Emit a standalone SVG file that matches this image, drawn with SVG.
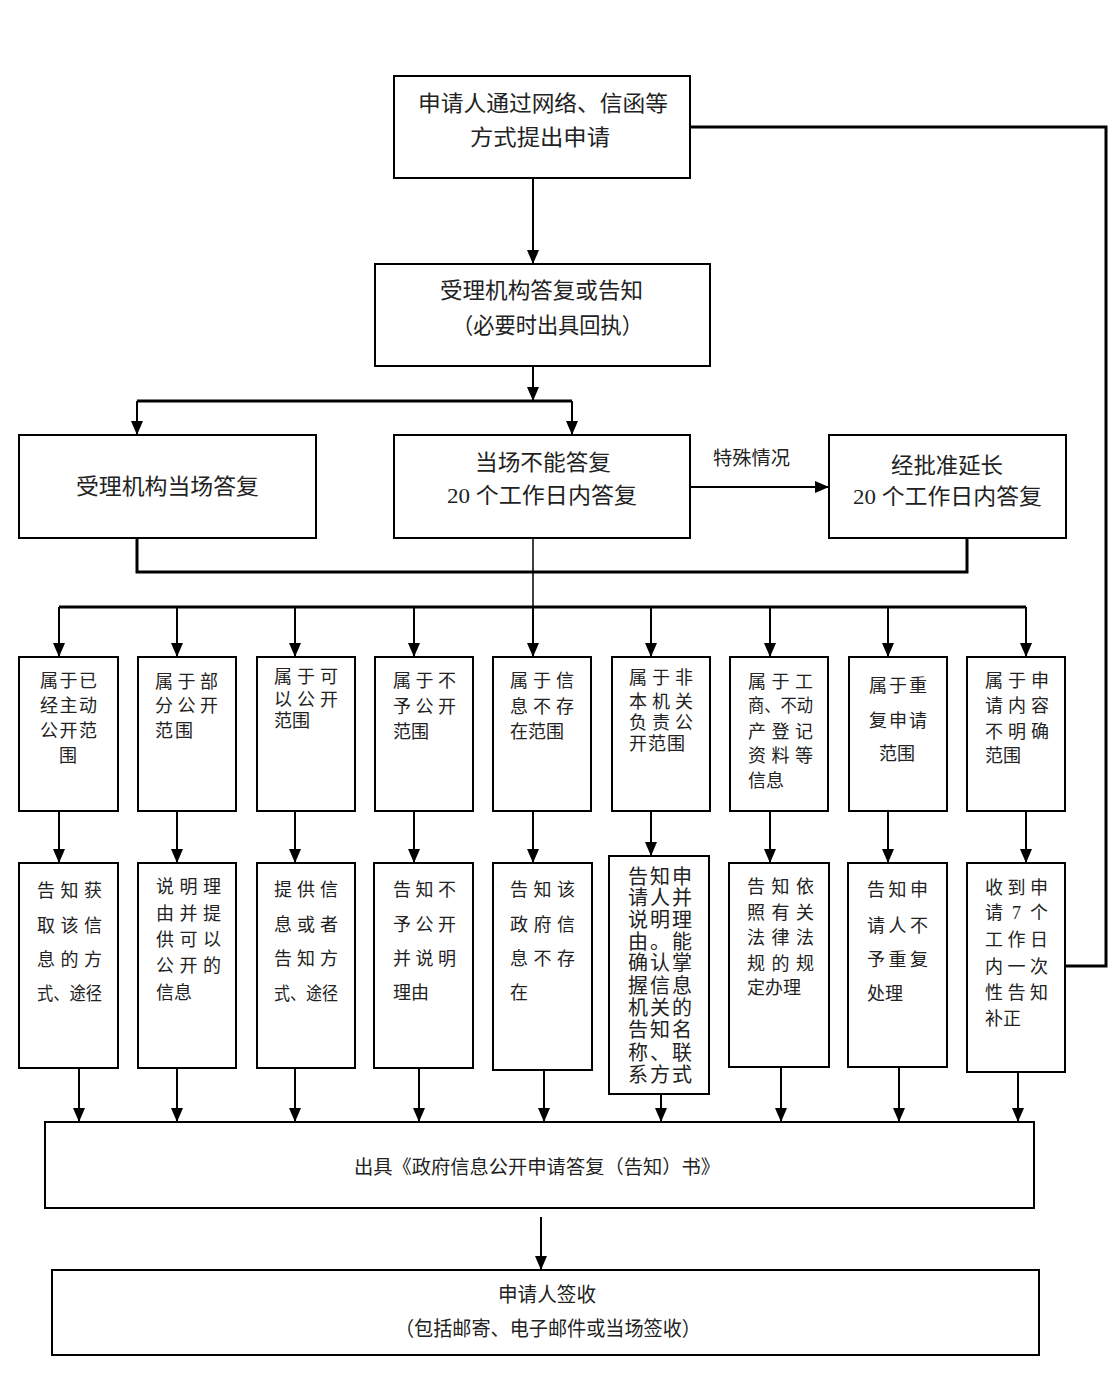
<svg xmlns="http://www.w3.org/2000/svg" width="1119" height="1378" viewBox="0 0 1119 1378">
<defs>
<style>
.box{fill:#fff;stroke:#000;stroke-width:2}
.ln{fill:none;stroke:#000;stroke-width:2}
.thick{fill:none;stroke:#000;stroke-width:3}
.thin{fill:none;stroke:#000;stroke-width:1.5}
text{font-family:"Liberation Serif","Noto Sans CJK SC",serif;fill:#222}
.t22{font-size:22px}
.t18{font-size:18px}
.t20{font-size:20px}
.t19{font-size:19px}
.mid{text-anchor:middle}
</style>
<marker id="ah" markerUnits="userSpaceOnUse" markerWidth="14" markerHeight="12" refX="14" refY="6" orient="auto">
<path d="M0,0 L14,6 L0,12 z" fill="#000"/>
</marker>
</defs>
<rect width="1119" height="1378" fill="#fff"/>

<g id="connectors">
<line class="ln" x1="533" y1="178" x2="533" y2="264" marker-end="url(#ah)"/>
<line class="ln" x1="533" y1="366" x2="533" y2="401" marker-end="url(#ah)"/>
<line class="thick" x1="137" y1="401" x2="572" y2="401"/>
<line class="ln" x1="137" y1="401" x2="137" y2="435" marker-end="url(#ah)"/>
<line class="ln" x1="572" y1="401" x2="572" y2="435" marker-end="url(#ah)"/>
<line class="ln" x1="690" y1="487" x2="829" y2="487" marker-end="url(#ah)"/>
<polyline class="thick" points="137,538 137,572 967,572 967,538"/>
<line class="thin" x1="533" y1="538" x2="533" y2="607"/>
<line class="thick" x1="59" y1="607" x2="1026" y2="607"/>
<line class="ln" x1="59" y1="607" x2="59" y2="657" marker-end="url(#ah)"/>
<line class="ln" x1="177" y1="607" x2="177" y2="657" marker-end="url(#ah)"/>
<line class="ln" x1="295" y1="607" x2="295" y2="657" marker-end="url(#ah)"/>
<line class="ln" x1="414" y1="607" x2="414" y2="657" marker-end="url(#ah)"/>
<line class="ln" x1="533" y1="607" x2="533" y2="657" marker-end="url(#ah)"/>
<line class="ln" x1="651" y1="607" x2="651" y2="657" marker-end="url(#ah)"/>
<line class="ln" x1="770" y1="607" x2="770" y2="657" marker-end="url(#ah)"/>
<line class="ln" x1="888" y1="607" x2="888" y2="657" marker-end="url(#ah)"/>
<line class="ln" x1="1026" y1="607" x2="1026" y2="657" marker-end="url(#ah)"/>
<line class="ln" x1="59" y1="811" x2="59" y2="863" marker-end="url(#ah)"/>
<line class="ln" x1="177" y1="811" x2="177" y2="863" marker-end="url(#ah)"/>
<line class="ln" x1="295" y1="811" x2="295" y2="863" marker-end="url(#ah)"/>
<line class="ln" x1="414" y1="811" x2="414" y2="863" marker-end="url(#ah)"/>
<line class="ln" x1="533" y1="811" x2="533" y2="863" marker-end="url(#ah)"/>
<line class="ln" x1="651" y1="811" x2="651" y2="856" marker-end="url(#ah)"/>
<line class="ln" x1="770" y1="811" x2="770" y2="863" marker-end="url(#ah)"/>
<line class="ln" x1="888" y1="811" x2="888" y2="863" marker-end="url(#ah)"/>
<line class="ln" x1="1026" y1="811" x2="1026" y2="863" marker-end="url(#ah)"/>
<polyline class="thick" points="690,127 1106,127 1106,966 1065,966"/>
<line class="ln" x1="79" y1="1068" x2="79" y2="1122" marker-end="url(#ah)"/>
<line class="ln" x1="177" y1="1068" x2="177" y2="1122" marker-end="url(#ah)"/>
<line class="ln" x1="295" y1="1068" x2="295" y2="1122" marker-end="url(#ah)"/>
<line class="ln" x1="419" y1="1068" x2="419" y2="1122" marker-end="url(#ah)"/>
<line class="ln" x1="544" y1="1070" x2="544" y2="1122" marker-end="url(#ah)"/>
<line class="ln" x1="661" y1="1094" x2="661" y2="1122" marker-end="url(#ah)"/>
<line class="ln" x1="781" y1="1067" x2="781" y2="1122" marker-end="url(#ah)"/>
<line class="ln" x1="899" y1="1067" x2="899" y2="1122" marker-end="url(#ah)"/>
<line class="ln" x1="1018" y1="1072" x2="1018" y2="1122" marker-end="url(#ah)"/>
<line class="ln" x1="541" y1="1217" x2="541" y2="1270" marker-end="url(#ah)"/>
<text class="t19" x="713" y="465" textLength="77" lengthAdjust="spacingAndGlyphs">特殊情况</text>
</g>

<g id="n-apply">
<rect class="box" x="394" y="76" width="296" height="102"/>
<text class="t22" x="418" y="111" textLength="250" lengthAdjust="spacingAndGlyphs">申请人通过网络、信函等</text>
<text class="t22" x="470" y="145" textLength="140" lengthAdjust="spacingAndGlyphs">方式提出申请</text>
</g>
<g id="n-accept">
<rect class="box" x="375" y="264" width="335" height="102"/>
<text class="t22" x="440" y="298" textLength="203" lengthAdjust="spacingAndGlyphs">受理机构答复或告知</text>
<text class="t22" x="452" y="333" textLength="191" lengthAdjust="spacingAndGlyphs">（必要时出具回执）</text>
</g>
<g id="n-onsite">
<rect class="box" x="19" y="435" width="297" height="103"/>
<text class="t22" x="76" y="494" textLength="183" lengthAdjust="spacingAndGlyphs">受理机构当场答复</text>
</g>
<g id="n-20days">
<rect class="box" x="394" y="435" width="296" height="103"/>
<text class="t22" x="475" y="470" textLength="136" lengthAdjust="spacingAndGlyphs">当场不能答复</text>
<text class="t22" x="447" y="503" textLength="190" lengthAdjust="spacingAndGlyphs">20 个工作日内答复</text>
</g>
<g id="n-extend">
<rect class="box" x="829" y="435" width="237" height="103"/>
<text class="t22" x="891" y="473" textLength="112" lengthAdjust="spacingAndGlyphs">经批准延长</text>
<text class="t22" x="853" y="504" textLength="189" lengthAdjust="spacingAndGlyphs">20 个工作日内答复</text>
</g>

<g id="c1">
<rect class="box" x="19" y="657" width="99" height="154"/>
<text class="t18" x="40" y="687" textLength="57">属于已</text>
<text class="t18" x="40" y="712" textLength="57">经主动</text>
<text class="t18" x="40" y="737" textLength="57">公开范</text>
<text class="t18" x="59" y="762">围</text>
</g>
<g id="c2">
<rect class="box" x="138" y="657" width="98" height="154"/>
<text class="t18" x="155" y="688" textLength="63">属于部</text>
<text class="t18" x="155" y="712" textLength="63">分公开</text>
<text class="t18" x="155" y="737" textLength="38">范围</text>
</g>
<g id="c3">
<rect class="box" x="257" y="657" width="98" height="154"/>
<text class="t18" x="274" y="683" textLength="64">属于可</text>
<text class="t18" x="274" y="706" textLength="64">以公开</text>
<text class="t18" x="274" y="727">范围</text>
</g>
<g id="c4">
<rect class="box" x="375" y="657" width="98" height="154"/>
<text class="t18" x="393" y="687" textLength="63">属于不</text>
<text class="t18" x="393" y="713" textLength="63">予公开</text>
<text class="t18" x="393" y="738">范围</text>
</g>
<g id="c5">
<rect class="box" x="493" y="657" width="98" height="154"/>
<text class="t18" x="510" y="687" textLength="64">属于信</text>
<text class="t18" x="510" y="713" textLength="64">息不存</text>
<text class="t18" x="510" y="738">在范围</text>
</g>
<g id="c6">
<rect class="box" x="612" y="657" width="98" height="154"/>
<text class="t18" x="629" y="684" textLength="64">属于非</text>
<text class="t18" x="629" y="708" textLength="64">本机关</text>
<text class="t18" x="629" y="729" textLength="64">负责公</text>
<text class="t18" x="629" y="750" textLength="56">开范围</text>
</g>
<g id="c7">
<rect class="box" x="730" y="657" width="98" height="154"/>
<text class="t18" x="748" y="688" textLength="65">属于工</text>
<text class="t18" x="748" y="712" textLength="65" lengthAdjust="spacingAndGlyphs">商、不动</text>
<text class="t18" x="748" y="738" textLength="65">产登记</text>
<text class="t18" x="748" y="762" textLength="65">资料等</text>
<text class="t18" x="748" y="787">信息</text>
</g>
<g id="c8">
<rect class="box" x="849" y="657" width="98" height="154"/>
<text class="t18" x="869" y="692" textLength="58">属于重</text>
<text class="t18" x="869" y="727" textLength="58">复申请</text>
<text class="t18" x="879" y="760">范围</text>
</g>
<g id="c9">
<rect class="box" x="967" y="657" width="98" height="154"/>
<text class="t18" x="985" y="687" textLength="64">属于申</text>
<text class="t18" x="985" y="712" textLength="64">请内容</text>
<text class="t18" x="985" y="738" textLength="64">不明确</text>
<text class="t18" x="985" y="762">范围</text>
</g>

<g id="r1">
<rect class="box" x="19" y="863" width="99" height="205"/>
<text class="t18" x="37" y="897" textLength="65">告知获</text>
<text class="t18" x="37" y="932" textLength="65">取该信</text>
<text class="t18" x="37" y="966" textLength="65">息的方</text>
<text class="t18" x="37" y="1000" textLength="65" lengthAdjust="spacingAndGlyphs">式、途径</text>
</g>
<g id="r2">
<rect class="box" x="138" y="863" width="98" height="205"/>
<text class="t18" x="156" y="893" textLength="65">说明理</text>
<text class="t18" x="156" y="920" textLength="65">由并提</text>
<text class="t18" x="156" y="946" textLength="65">供可以</text>
<text class="t18" x="156" y="972" textLength="65">公开的</text>
<text class="t18" x="156" y="999">信息</text>
</g>
<g id="r3">
<rect class="box" x="257" y="863" width="98" height="205"/>
<text class="t18" x="274" y="896" textLength="64">提供信</text>
<text class="t18" x="274" y="931" textLength="64">息或者</text>
<text class="t18" x="274" y="965" textLength="64">告知方</text>
<text class="t18" x="274" y="1000" textLength="64" lengthAdjust="spacingAndGlyphs">式、途径</text>
</g>
<g id="r4">
<rect class="box" x="374" y="863" width="99" height="205"/>
<text class="t18" x="393" y="896" textLength="63">告知不</text>
<text class="t18" x="393" y="931" textLength="63">予公开</text>
<text class="t18" x="393" y="965" textLength="63">并说明</text>
<text class="t18" x="393" y="999">理由</text>
</g>
<g id="r5">
<rect class="box" x="493" y="863" width="99" height="207"/>
<text class="t18" x="510" y="896" textLength="65">告知该</text>
<text class="t18" x="510" y="931" textLength="65">政府信</text>
<text class="t18" x="510" y="965" textLength="65">息不存</text>
<text class="t18" x="510" y="999">在</text>
</g>
<g id="r6">
<rect class="box" x="609" y="856" width="100" height="238"/>
<text class="t20" x="628" y="884" textLength="64">告知申</text>
<text class="t20" x="628" y="905" textLength="64">请人并</text>
<text class="t20" x="628" y="927" textLength="64">说明理</text>
<text class="t20" x="628" y="949" textLength="64">由。能</text>
<text class="t20" x="628" y="970" textLength="64">确认掌</text>
<text class="t20" x="628" y="993" textLength="64">握信息</text>
<text class="t20" x="628" y="1015" textLength="64">机关的</text>
<text class="t20" x="628" y="1037" textLength="64">告知名</text>
<text class="t20" x="628" y="1060" textLength="64">称、联</text>
<text class="t20" x="628" y="1082" textLength="64">系方式</text>
</g>
<g id="r7">
<rect class="box" x="729" y="863" width="100" height="204"/>
<text class="t18" x="747" y="893" textLength="67">告知依</text>
<text class="t18" x="747" y="919" textLength="67">照有关</text>
<text class="t18" x="747" y="944" textLength="67">法律法</text>
<text class="t18" x="747" y="970" textLength="67">规的规</text>
<text class="t18" x="747" y="994">定办理</text>
</g>
<g id="r8">
<rect class="box" x="848" y="863" width="99" height="204"/>
<text class="t18" x="867" y="896" textLength="61">告知申</text>
<text class="t18" x="867" y="932" textLength="61">请人不</text>
<text class="t18" x="867" y="966" textLength="61">予重复</text>
<text class="t18" x="867" y="1000">处理</text>
</g>
<g id="r9">
<rect class="box" x="967" y="863" width="98" height="209"/>
<text class="t18" x="985" y="894" textLength="63">收到申</text>
<text class="t18" x="985" y="919" textLength="63">请 7 个</text>
<text class="t18" x="985" y="946" textLength="63">工作日</text>
<text class="t18" x="985" y="973" textLength="63">内一次</text>
<text class="t18" x="985" y="999" textLength="63">性告知</text>
<text class="t18" x="985" y="1025">补正</text>
</g>

<g id="n-issue">
<rect class="box" x="45" y="1122" width="989" height="86"/>
<text class="t19" x="354" y="1174" textLength="366" lengthAdjust="spacingAndGlyphs">出具《政府信息公开申请答复（告知）书》</text>
</g>
<g id="n-sign">
<rect class="box" x="52" y="1270" width="987" height="85"/>
<text class="t20" x="498" y="1302" textLength="98" lengthAdjust="spacingAndGlyphs">申请人签收</text>
<text class="t20" x="395" y="1336" textLength="306" lengthAdjust="spacingAndGlyphs">（包括邮寄、电子邮件或当场签收）</text>
</g>
</svg>
